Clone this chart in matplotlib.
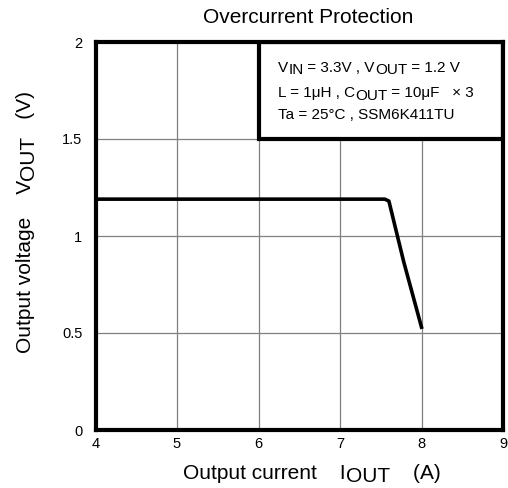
import matplotlib
matplotlib.use('Agg')
import matplotlib.pyplot as plt
from matplotlib.patches import Rectangle
from matplotlib.transforms import offset_copy
from matplotlib.font_manager import FontProperties

# data
iout = [4.0, 7.55, 7.6, 7.78, 8.0]
vout = [1.19, 1.19, 1.18, 0.87, 0.53]

x_ticks = [4, 5, 6, 7, 8, 9]
y_ticks = [0, 0.5, 1, 1.5, 2]
y_tick_labels = ['0', '0.5', '1', '1.5', '2']

FONT = 'Liberation Sans'
plt.rcParams['font.family'] = [FONT, 'DejaVu Sans']

W, H = 508, 488
fig = plt.figure(figsize=(W / 100, H / 100), dpi=100)
ax = fig.add_axes([95.5 / W, 1 - 430 / H, (503 - 95.5) / W, (430 - 42) / H])

ax.set_xlim(4, 9)
ax.set_ylim(0, 2)
ax.set_xticks(x_ticks)
ax.set_yticks(y_ticks)
ax.set_yticklabels(y_tick_labels)
ax.tick_params(length=0, labelsize=10.5)
ax.tick_params(axis='y', pad=9.5)
ax.tick_params(axis='x', pad=5)
ax.grid(True, color='#808080', lw=0.9)
for sp in ax.spines.values():
    sp.set_linewidth(3)
    sp.set_zorder(5)

ax.plot(iout, vout, color='black', lw=2.6, solid_joinstyle='round', zorder=3)

# condition box in the upper right corner
ax.add_patch(Rectangle((6, 1.5), 3, 0.5, facecolor='white', edgecolor='black',
                       lw=3, zorder=4))

renderer = fig.canvas.get_renderer()


def width_px(s, size):
    fp = FontProperties(family=FONT, size=size)
    w1 = renderer.get_text_width_height_descent(s + 'x', fp, ismath=False)[0]
    w2 = renderer.get_text_width_height_descent('x', fp, ismath=False)[0]
    return w1 - w2


def draw_parts(x, y, parts, size, rot=False):
    # parts: (text, drop in px); subscripts are same size, just lowered
    off = 0
    for s, drop in parts:
        if rot:
            tr = offset_copy(fig.transFigure, fig=fig, x=drop, y=off, units='dots')
        else:
            tr = offset_copy(fig.transFigure, fig=fig, x=off, y=-drop, units='dots')
        fig.text(x, y, s, transform=tr, fontsize=size, ha='left', va='baseline',
                 rotation=90 if rot else 0, rotation_mode='anchor', zorder=6)
        off += width_px(s, size)


box_size = 11
draw_parts(278 / W, 1 - 72 / H,
           [('V', 0), ('IN', 2.5), (' = 3.3V , V', 0), ('OUT', 2.5), (' = 1.2 V', 0)], box_size)
draw_parts(278 / W, 1 - 97 / H,
           [('L = 1\u03bcH , C', 0), ('OUT', 2.5), (' = 10\u03bcF   \u00d7 3', 0)], box_size)
draw_parts(278 / W, 1 - 119 / H,
           [('Ta = 25\u00b0C , SSM6K411TU', 0)], box_size)

fig.text(308 / W, 1 - 23 / H, 'Overcurrent Protection', fontsize=15,
         ha='center', va='baseline')

draw_parts(183 / W, 1 - 479 / H,
           [('Output current    I', 0), ('OUT', 3), ('    (A)', 0)], 15)
draw_parts(31 / W, 1 - 353 / H,
           [('Output voltage    V', 0), ('OUT', 3), ('   (V)', 0)], 15, rot=True)

fig.savefig('out.png', dpi=100)
